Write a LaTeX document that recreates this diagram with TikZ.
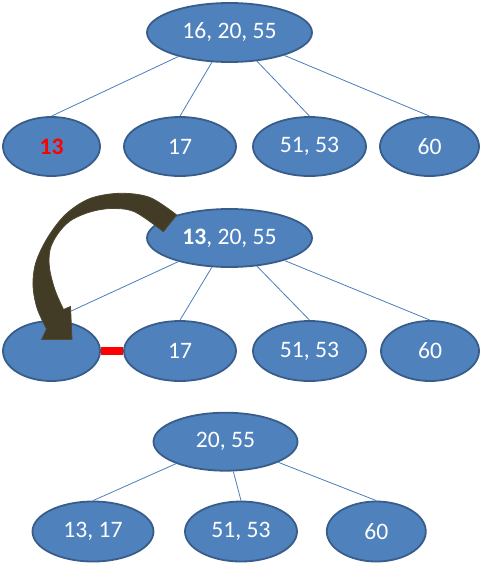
\documentclass[tikz,border=0pt]{standalone}
\usepackage{fontspec}
\setmainfont{Carlito}
\usetikzlibrary{shapes.geometric}
\definecolor{bfill}{RGB}{79,129,189}
\definecolor{bord}{RGB}{56,93,138}
\definecolor{lineblue}{RGB}{74,126,187}
\definecolor{arrowfill}{RGB}{66,59,38}
\definecolor{arrowedge}{RGB}{80,72,48}
\definecolor{keyred}{RGB}{255,0,0}
\tikzset{
  bnode/.style={ellipse, draw=bord, fill=bfill, line width=1.8pt, text=white,
    font=\fontsize{23.6}{28}\selectfont, inner sep=0pt, minimum height=59pt},
  edge/.style={draw=lineblue, line width=0.8pt},
  link/.style={draw=keyred, line width=8pt}
}
\begin{document}
\begin{tikzpicture}[x=1pt,y=-1pt]
\useasboundingbox (0,0) rectangle (481,565);
% row 1
\node[bnode, minimum width=165pt] (r1) at (229.5,32.5) {16, 20, 55};
\node[bnode, minimum width=97pt] (a1) at (51.5,146.5) {\textcolor{keyred}{\bfseries 13}};
\node[bnode, minimum width=112pt] (b1) at (180,146.5) {17};
\node[bnode, minimum width=113pt] (c1) at (309.5,146.5) {51, 53};
\node[bnode, minimum width=99pt] (d1) at (429.5,146.5) {60};
\draw[edge] (r1) -- (a1.north);
\draw[edge] (r1) -- (b1.north);
\draw[edge] (r1) -- (c1.north);
\draw[edge] (r1) -- (d1.north);
% row 2
\node[bnode, minimum width=165pt, minimum height=58pt] (r2) at (229.5,238) {\textbf{13}, 20, 55};
\node[bnode, minimum width=97pt, minimum height=60pt] (a2) at (51.5,351) {};
\node[bnode, minimum width=112pt, minimum height=60pt] (b2) at (180,351) {17};
\node[bnode, minimum width=113pt, minimum height=60pt] (c2) at (309.5,351) {51, 53};
\node[bnode, minimum width=98pt, minimum height=60pt] (d2) at (430,351) {60};
\draw[edge] (r2) -- (a2.north);
\draw[edge] (r2) -- (b2.north);
\draw[edge] (r2) -- (c2.north);
\draw[edge] (r2) -- (d2.north);
\draw[link] (a2.east) -- (b2.west);
% row 3
\node[bnode, minimum width=144pt, minimum height=58pt] (r3) at (225.5,441.7) {20, 55};
\node[bnode, minimum width=121pt, minimum height=60pt] (a3) at (93,531.5) {13, 17};
\node[bnode, minimum width=112pt, minimum height=60pt] (b3) at (241,531.5) {51, 53};
\node[bnode, minimum width=99pt, minimum height=60pt] (c3) at (376.3,531.5) {60};
\draw[edge] (r3) -- (a3.north);
\draw[edge] (r3) -- (b3.north);
\draw[edge] (r3) -- (c3.north);
% curved arrow
\filldraw[fill=arrowfill, draw=arrowedge, line width=0.8pt, line join=miter]
  plot[smooth, tension=0.55] coordinates {(176.7,215) (150,197.5) (120,193.3) (90,198.5) (66,214) (48,237) (36,262) (33,285) (37,308) (46.5,329)}
  -- (41.7,339.5) -- (72,339.5) -- (70.5,306.5) -- (63.5,309.5)
  -- plot[smooth, tension=0.55] coordinates {(63.5,309.5) (55,290) (49.5,268) (50,250) (57,235) (70,221) (90,212) (112,208.5) (135,212) (163.3,231.7)}
  -- cycle;
\end{tikzpicture}
\end{document}
